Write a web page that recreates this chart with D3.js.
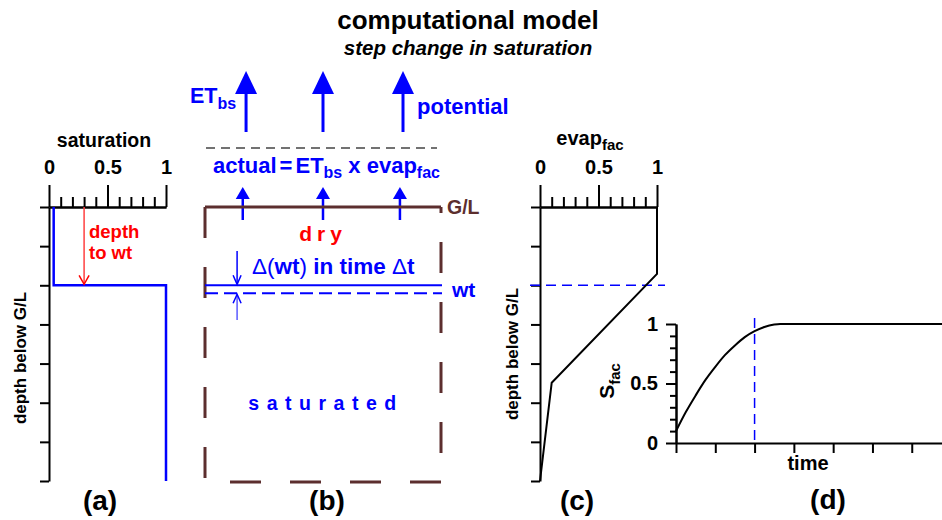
<!DOCTYPE html>
<html>
<head>
<meta charset="utf-8">
<script src="https://cdn.jsdelivr.net/npm/d3@7"></script>
<style>
  body { margin: 0; background: #fff; }
  text { font-family: "Liberation Sans", Arial, sans-serif; font-weight: bold; }
</style>
</head>
<body>
<div id="chart"></div>
<script>
// ---- data ----
// (a) saturation profile: step at the water table
const satDepth = [0, 2, 2, 7];
const satValue = [0.04, 0.04, 1, 1];
// (c) evaporation factor vs depth
const evapDepth = [0, 1.71, 4.49, 7];
const evapValue = [1, 1, 0.1, 0];
// (d) S_fac vs time (time in tick units)
const sfacTime = [0, 0.25, 0.5, 0.75, 1, 1.25, 1.5, 1.75, 2, 2.25, 2.5, 2.65, 6.8];
const sfacValue = [0.1, 0.26, 0.4, 0.53, 0.64, 0.74, 0.82, 0.89, 0.94, 0.975, 0.995, 1, 1];
const wtDepth = 2;       // depth of water table (tick units)
const wtTime = 2;        // time marker in (d)
const depthTicks = [0, 1, 2, 3, 4, 5, 6, 7];
const fracMajor = [0, 0.5, 1];
const fracMinor = [0.1, 0.2, 0.3, 0.4, 0.6, 0.7, 0.8, 0.9];
const timeTicks = [0, 1, 2, 3, 4, 5, 6];
// (b) arrow positions across the box (fraction of width)
const bigArrows = [0.174, 0.5, 0.839];
const smallArrows = [0.16, 0.5, 0.826];

const width = 942, height = 520;
const BLUE = "#0000ff", RED = "#ff0000", BROWN = "#5c2e2e";

const svg = d3.select("#chart").append("svg")
  .attr("width", width)
  .attr("height", height);

// shared depth scale for (a), (b), (c)
const yDepth = d3.scaleLinear().domain([0, 7]).range([207, 481]);
const xA = d3.scaleLinear().domain([0, 1]).range([49, 166]);
const xC = d3.scaleLinear().domain([0, 1]).range([540, 657]);
const xB = d3.scaleLinear().domain([0, 1]).range([205, 441]);
const xD = d3.scaleLinear().domain([0, 6.77]).range([676, 942]);
const yD = d3.scaleLinear().domain([0, 1]).range([443, 324]);

function styleAxis(g) {
  g.selectAll("path, line").attr("stroke", "#000").attr("stroke-width", 2);
  g.selectAll("text").attr("fill", "#000").style("font-size", "20px")
    .style("font-family", "'Liberation Sans', Arial, sans-serif").style("font-weight", "bold");
}

// title
svg.append("text").attr("x", 468).attr("y", 29).attr("text-anchor", "middle")
  .style("font-size", "26px").text("computational model");
svg.append("text").attr("x", 468).attr("y", 55).attr("text-anchor", "middle")
  .style("font-size", "20.5px").style("font-style", "italic").text("step change in saturation");

// ---- depth panels (a) and (c) ----
function depthPanel(x) {
  const g = svg.append("g");
  g.append("g").attr("transform", `translate(0,${yDepth(0)})`)
    .call(d3.axisTop(x).tickValues(fracMajor).tickSize(22).tickSizeOuter(0)
      .tickPadding(11).tickFormat(d3.format("~g")))
    .call(styleAxis);
  g.append("g").attr("transform", `translate(0,${yDepth(0)})`)
    .call(d3.axisTop(x).tickValues(fracMinor).tickSize(10).tickSizeOuter(0).tickFormat(""))
    .call(styleAxis);
  g.append("g").attr("transform", `translate(${x(0)},0)`)
    .call(d3.axisLeft(yDepth).tickValues(depthTicks).tickSize(9).tickSizeOuter(0).tickFormat(""))
    .call(styleAxis);
  return g;
}

// (a)
const gA = depthPanel(xA);
gA.append("text").attr("x", 104).attr("y", 147).attr("text-anchor", "middle")
  .style("font-size", "19.5px").text("saturation");
gA.append("text").attr("transform", "translate(26,358) rotate(-90)").attr("text-anchor", "middle")
  .style("font-size", "17px").text("depth below G/L");
gA.append("path")
  .datum(d3.zip(satValue, satDepth))
  .attr("fill", "none").attr("stroke", BLUE).attr("stroke-width", 2.5)
  .attr("d", d3.line().x(d => xA(d[0])).y(d => yDepth(d[1])));
// red depth-to-wt arrow
const ra = xA(0.3);
gA.append("line").attr("x1", ra).attr("x2", ra).attr("y1", yDepth(0)).attr("y2", yDepth(wtDepth) - 1)
  .attr("stroke", "#ff4040").attr("stroke-width", 1.5);
gA.append("path").attr("d", `M${ra - 5},${yDepth(wtDepth) - 10}L${ra},${yDepth(wtDepth) - 1}L${ra + 5},${yDepth(wtDepth) - 10}`)
  .attr("fill", "none").attr("stroke", RED).attr("stroke-width", 1.5);
gA.append("text").attr("x", 89).attr("y", 238).attr("fill", RED).style("font-size", "18.5px").text("depth");
gA.append("text").attr("x", 89).attr("y", 259).attr("fill", RED).style("font-size", "18.5px").text("to wt");
gA.append("text").attr("x", 100).attr("y", 510).attr("text-anchor", "middle")
  .style("font-size", "28px").text("(a)");

// (c)
const gC = depthPanel(xC);
const tC = gC.append("text").attr("x", 590).attr("y", 145).attr("text-anchor", "middle").style("font-size", "20px");
tC.append("tspan").text("evap");
tC.append("tspan").attr("dy", 5).style("font-size", "15px").text("fac");
gC.append("text").attr("transform", "translate(518,354) rotate(-90)").attr("text-anchor", "middle")
  .style("font-size", "17px").text("depth below G/L");
gC.append("line").attr("x1", 530).attr("x2", 665).attr("y1", yDepth(wtDepth)).attr("y2", yDepth(wtDepth))
  .attr("stroke", BLUE).attr("stroke-width", 1.5).attr("stroke-dasharray", "10,6");
gC.append("path")
  .datum(d3.zip(evapValue, evapDepth))
  .attr("fill", "none").attr("stroke", "#000").attr("stroke-width", 2)
  .attr("d", d3.line().x(d => xC(d[0])).y(d => yDepth(d[1])));
gC.append("text").attr("x", 577).attr("y", 510).attr("text-anchor", "middle")
  .style("font-size", "28px").text("(c)");

// ---- (b) schematic ----
const gB = svg.append("g");
// big potential arrows
bigArrows.forEach(f => {
  const x = xB(f);
  gB.append("line").attr("x1", x).attr("x2", x).attr("y1", 92).attr("y2", 132)
    .attr("stroke", BLUE).attr("stroke-width", 3);
  gB.append("path").attr("d", `M${x},71L${x - 11},94L${x + 11},94Z`).attr("fill", BLUE);
});
const tET = gB.append("text").attr("x", 190).attr("y", 103).attr("fill", BLUE).style("font-size", "21.5px");
tET.append("tspan").text("ET");
tET.append("tspan").attr("dy", 6).style("font-size", "16px").text("bs");
gB.append("text").attr("x", 417).attr("y", 114).attr("fill", BLUE).style("font-size", "22px").text("potential");
gB.append("line").attr("x1", 206).attr("x2", 437).attr("y1", 148).attr("y2", 148)
  .attr("stroke", "#444").attr("stroke-width", 1.5).attr("stroke-dasharray", "9,6");
const tAct = gB.append("text").attr("x", 213).attr("y", 173).attr("fill", BLUE).style("font-size", "22px");
tAct.append("tspan").text("actual");
tAct.append("tspan").attr("dx", 3).text("=");
tAct.append("tspan").attr("dx", 3).text("ET");
tAct.append("tspan").attr("dy", 5).style("font-size", "16px").text("bs");
tAct.append("tspan").attr("dy", -5).text(" x  evap");
tAct.append("tspan").attr("dy", 5).style("font-size", "16px").text("fac");
// small actual arrows
smallArrows.forEach(f => {
  const x = xB(f);
  gB.append("line").attr("x1", x).attr("x2", x).attr("y1", 197).attr("y2", 220)
    .attr("stroke", BLUE).attr("stroke-width", 2.5);
  gB.append("path").attr("d", `M${x},187L${x - 7},199L${x + 7},199Z`).attr("fill", BLUE);
});
// box: ground level solid, sides dashed
gB.append("path").attr("d", `M${xB(0)},${yDepth(0)}V${yDepth(7) + 1}H${xB(1)}V${yDepth(0)}`)
  .attr("fill", "none").attr("stroke", BROWN).attr("stroke-width", 3).attr("stroke-dasharray", "31,29");
gB.append("line").attr("x1", xB(0)).attr("x2", xB(1)).attr("y1", yDepth(0)).attr("y2", yDepth(0))
  .attr("stroke", BROWN).attr("stroke-width", 3);
gB.append("text").attr("x", 447).attr("y", 214).attr("fill", BROWN).style("font-size", "19.5px").text("G/L");
gB.append("text").attr("x", 323).attr("y", 241).attr("text-anchor", "middle").attr("fill", RED)
  .style("font-size", "21px").style("letter-spacing", "5px").text("dry");
// water table lines
const wtY = yDepth(wtDepth);
gB.append("line").attr("x1", xB(0)).attr("x2", xB(1) + 1).attr("y1", wtY).attr("y2", wtY)
  .attr("stroke", BLUE).attr("stroke-width", 2);
gB.append("line").attr("x1", xB(0)).attr("x2", xB(1) + 1).attr("y1", wtY + 8).attr("y2", wtY + 8)
  .attr("stroke", BLUE).attr("stroke-width", 2).attr("stroke-dasharray", "13,6");
gB.append("text").attr("x", 452).attr("y", 297).attr("fill", BLUE).style("font-size", "21px").text("wt");
// delta arrows
const dx = xB(0.136);
gB.append("line").attr("x1", dx).attr("x2", dx).attr("y1", 251).attr("y2", wtY - 1)
  .attr("stroke", BLUE).attr("stroke-width", 1.5);
gB.append("path").attr("d", `M${dx - 4},${wtY - 10}L${dx},${wtY - 1}L${dx + 4},${wtY - 10}`)
  .attr("fill", "none").attr("stroke", BLUE).attr("stroke-width", 1.5);
gB.append("line").attr("x1", dx).attr("x2", dx).attr("y1", wtY + 9).attr("y2", 320)
  .attr("stroke", "#5a5aff").attr("stroke-width", 1.5);
gB.append("path").attr("d", `M${dx - 4},${wtY + 18}L${dx},${wtY + 9}L${dx + 4},${wtY + 18}`)
  .attr("fill", "none").attr("stroke", BLUE).attr("stroke-width", 1.5);
const tDel = gB.append("text").attr("x", 252).attr("y", 274).attr("fill", BLUE).style("font-size", "22.5px");
tDel.append("tspan").style("font-weight", "normal").text("Δ(");
tDel.append("tspan").text("wt");
tDel.append("tspan").style("font-weight", "normal").text(")");
tDel.append("tspan").text(" in time ");
tDel.append("tspan").style("font-weight", "normal").text("Δ");
tDel.append("tspan").text("t");
gB.append("text").attr("x", 326).attr("y", 410).attr("text-anchor", "middle").attr("fill", BLUE)
  .style("font-size", "19.5px").style("letter-spacing", "7.5px").text("saturated");
gB.append("text").attr("x", 327).attr("y", 510).attr("text-anchor", "middle")
  .style("font-size", "28px").text("(b)");

// ---- (d) S_fac vs time ----
const gD = svg.append("g");
gD.append("g").attr("transform", `translate(${xD(0)},0)`)
  .call(d3.axisLeft(yD).tickValues(fracMajor).tickSize(10).tickSizeOuter(0)
    .tickPadding(8).tickFormat(d3.format("~g")))
  .call(styleAxis);
gD.append("g").attr("transform", `translate(${xD(0)},0)`)
  .call(d3.axisLeft(yD).tickValues(fracMinor).tickSize(6).tickSizeOuter(0).tickFormat(""))
  .call(styleAxis);
gD.append("g").attr("transform", `translate(0,${yD(0)})`)
  .call(d3.axisBottom(xD).tickValues(timeTicks).tickSize(10).tickSizeOuter(0).tickFormat(""))
  .call(styleAxis);
gD.append("line").attr("x1", xD(wtTime)).attr("x2", xD(wtTime)).attr("y1", 318).attr("y2", yD(0))
  .attr("stroke", BLUE).attr("stroke-width", 1.5).attr("stroke-dasharray", "10,6");
gD.append("path")
  .datum(d3.zip(sfacTime, sfacValue))
  .attr("fill", "none").attr("stroke", "#000").attr("stroke-width", 2)
  .attr("d", d3.line().curve(d3.curveMonotoneX).x(d => xD(d[0])).y(d => yD(d[1])));
const tS = gD.append("text").attr("transform", "translate(614,381) rotate(-90)").attr("text-anchor", "middle")
  .style("font-size", "21px");
tS.append("tspan").text("S");
tS.append("tspan").attr("dy", 6).style("font-size", "15px").text("fac");
gD.append("text").attr("x", 808).attr("y", 470).attr("text-anchor", "middle")
  .style("font-size", "20px").text("time");
gD.append("text").attr("x", 828).attr("y", 509).attr("text-anchor", "middle")
  .style("font-size", "28px").text("(d)");
</script>
</body>
</html>
